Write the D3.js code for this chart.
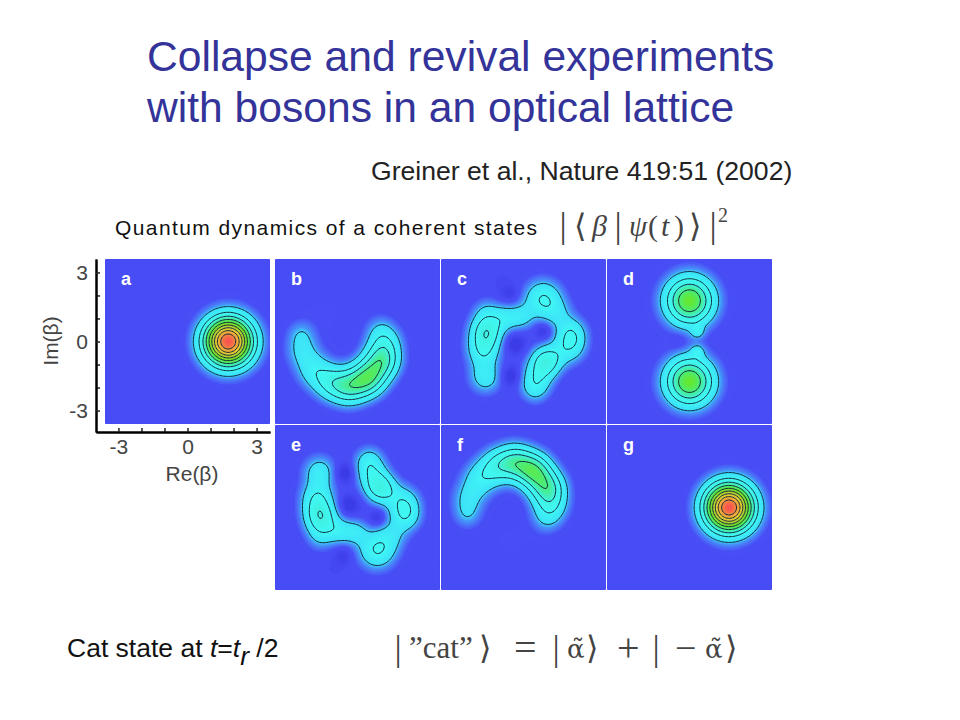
<!DOCTYPE html>
<html>
<head>
<meta charset="utf-8">
<script src="https://d3js.org/d3.v7.min.js"></script>
<style>
  body { margin: 0; background: #fff; }
  svg { display: block; }
  text { font-family: "Liberation Sans", Arial, sans-serif; }
  .math { font-family: "Liberation Serif", "DejaVu Serif", serif; fill: #444; }
</style>
</head>
<body>
<div id="drawing"></div>
<script>
// each bump is [re, im, height, width]; negative ones are the dark holes
const panelA = [[1.77, 0, 1, 1]];
const panelB = [
  [-2.45, 0.35, 0.07, 0.6], [-2.4, -0.4, 0.1, 0.72], [-1.9, -1.25, 0.13, 0.75],
  [-1.15, -1.8, 0.185, 0.75], [-0.35, -2.0, 0.25, 0.75], [0.45, -1.6, 0.34, 0.75],
  [1.05, -0.85, 0.29, 0.75], [1.2, -0.05, 0.14, 0.72], [0.98, 0.55, 0.06, 0.65],
  [-1.4, 1.2, 0.012, 1.2]
];
const panelC = [
  [-1.6, 0.45, 0.25, 0.7], [-1.75, -0.4, 0.17, 0.7], [-1.65, -1.55, 0.14, 0.7], [-1.6, 1.3, 0.08, 0.6],
  [-0.8, 1.05, 0.11, 0.55], [-0.1, 1.05, 0.11, 0.55], [0.85, 1.85, 0.2, 0.8], [1.5, 1.2, 0.08, 0.65],
  [2.1, 0.4, 0.14, 0.65], [2.0, -0.25, 0.15, 0.7], [1.0, -0.85, 0.25, 0.65], [0.55, -1.55, 0.13, 0.7],
  [0.5, -2.1, 0.09, 0.6],
  [0.87, 0.45, -0.06, 0.35], [-0.4, -0.1, -0.06, 0.45], [-0.55, -1.5, -0.07, 0.45], [-0.6, 2.05, -0.04, 0.4]
];
const panelD = [
  [0, 1.77, 0.5, 1], [0, -1.74, 0.5, 1],
  [0.35, 0.42, 0.1, 0.28], [0.35, -0.42, 0.1, 0.28],
  [-0.5, 0, -0.03, 0.4]
];
const panelE = [
  [-1.6, -0.45, 0.25, 0.7], [-1.75, 0.4, 0.17, 0.7], [-1.65, 1.55, 0.14, 0.7], [-1.6, -1.3, 0.08, 0.6],
  [-0.8, -1.05, 0.11, 0.55], [-0.1, -1.05, 0.11, 0.55], [0.85, -1.85, 0.2, 0.8], [1.5, -1.2, 0.08, 0.65],
  [2.1, -0.4, 0.14, 0.65], [2.0, 0.25, 0.15, 0.7], [1.0, 0.85, 0.25, 0.65], [0.55, 1.55, 0.13, 0.7],
  [0.5, 2.1, 0.09, 0.6],
  [0.87, -0.45, -0.06, 0.35], [-0.4, 0.1, -0.06, 0.45], [-0.55, 1.5, -0.07, 0.45], [-0.6, -2.05, -0.04, 0.4]
];
const panelF = [
  [-2.45, -0.35, 0.07, 0.6], [-2.4, 0.4, 0.1, 0.72], [-1.9, 1.25, 0.13, 0.75],
  [-1.15, 1.8, 0.185, 0.75], [-0.35, 2.0, 0.25, 0.75], [0.45, 1.6, 0.34, 0.75],
  [1.05, 0.85, 0.29, 0.75], [1.2, 0.05, 0.14, 0.72], [0.98, -0.55, 0.06, 0.65],
  [-0.6, -1.5, 0.012, 1.2]
];
const panelG = [[1.72, 0, 1, 1]];

const panelNames = ["a", "b", "c", "d", "e", "f", "g"];
const panelBumps = [panelA, panelB, panelC, panelD, panelE, panelF, panelG];
const panelCols = [0, 1, 2, 3, 1, 2, 3];
const panelRows = [0, 0, 0, 0, 1, 1, 1];

const majorTicks = [-3, 0, 3];
const minorTicks = [-2, -1, 1, 2];
const contourLevels = [0.1, 0.2, 0.3, 0.4, 0.5, 0.6, 0.7, 0.8, 0.9];
const colorStops = [-0.04, 0, 0.02, 0.04, 0.07, 0.1, 0.2, 0.3, 0.4, 0.5, 0.6, 0.7, 0.8, 0.9, 1];
const colorValues = ["#3c3ce6", "#484cf5", "#484ef5", "#4a6cf8", "#4498f8", "#3ce0f8", "#40f8f4", "#40f0e0",
  "#48ec80", "#66e82c", "#98d030", "#d0d034", "#f0c034", "#f09040", "#f85050"];

const titleLines = ["Collapse and revival experiments", "with bosons in an optical lattice"];
const citation = "Greiner et al., Nature 419:51 (2002)";
const caption = "Quantum dynamics of a coherent states";

const width = 960;
const height = 720;
const panelSize = 163;
const panelX = [106, 276, 442, 608];
const panelY = [260, 426];
const range = 3.54;
const gridSize = 120;

const svg = d3.select("#drawing").append("svg")
  .attr("width", width)
  .attr("height", height)
  .style("background", "#fff");

const color = d3.scaleLinear().domain(colorStops).range(colorValues).clamp(true);
const gridToRe = d3.scaleLinear().domain([0, gridSize - 1]).range([-range, range]);
const gridToIm = d3.scaleLinear().domain([0, gridSize - 1]).range([range, -range]);
const reScale = d3.scaleLinear().domain([-range, range]).range([0, panelSize]);
const imScale = d3.scaleLinear().domain([-range, range]).range([panelSize, 0]);

const contours = d3.contours().size([gridSize, gridSize]);
const path = d3.geoPath(d3.geoTransform({
  point(x, y) {
    this.stream.point(reScale(gridToRe(x - 0.5)), imScale(gridToIm(y - 0.5)));
  }
}));

function field(bumps) {
  const values = [];
  for (let j = 0; j < gridSize; j++) {
    for (let i = 0; i < gridSize; i++) {
      const re = gridToRe(i), im = gridToIm(j);
      values.push(d3.sum(bumps, b => b[2] * Math.exp(-((re - b[0]) ** 2 + (im - b[1]) ** 2) / (b[3] * b[3]))));
    }
  }
  return values;
}

const blur = svg.append("defs").append("filter").attr("id", "soft");
blur.append("feGaussianBlur").attr("stdDeviation", 0.35);

panelNames.forEach((name, k) => {
  const g = svg.append("g")
    .attr("transform", `translate(${panelX[panelCols[k]]}, ${panelY[panelRows[k]]})`);
  const values = field(panelBumps[k]);

  g.append("rect").attr("width", panelSize).attr("height", panelSize).attr("fill", color(-0.04));
  g.append("g").selectAll("path")
    .data(contours.thresholds(d3.range(-0.04, 1.001, 0.01))(values))
    .join("path")
    .attr("d", path)
    .attr("fill", d => color(d.value));
  g.append("g").selectAll("path")
    .data(contours.thresholds(contourLevels)(values).filter(d => d.coordinates.length))
    .join("path")
    .attr("d", path)
    .attr("fill", "none")
    .attr("stroke", "#10283c")
    .attr("stroke-width", 1)
    .attr("filter", "url(#soft)");

  g.append("text")
    .attr("x", 15).attr("y", 25)
    .attr("fill", "#fff")
    .attr("font-size", 18)
    .attr("font-weight", "bold")
    .text(name);
});

// axes of panel a, they run a little past the panel towards the corner
const pxPerUnit = panelSize / (2 * range);
const xAxisScale = d3.scaleLinear().domain([-range - 10 / pxPerUnit, range + 1 / pxPerUnit]).range([96, 270]);
const yAxisScale = d3.scaleLinear().domain([-range - 9 / pxPerUnit, range + 1 / pxPerUnit]).range([432, 259]);

function styleAxis(sel) {
  sel.select(".domain").attr("stroke", "#000").attr("stroke-width", 2);
  sel.selectAll(".tick line").attr("stroke", "#222").attr("stroke-width", 1.5);
  sel.selectAll("text").attr("fill", "#444").attr("font-size", 21)
    .style("font-family", '"Liberation Sans", Arial, sans-serif');
}

const xG = svg.append("g").attr("transform", "translate(0, 432)");
xG.append("g").call(d3.axisBottom(xAxisScale).tickValues(minorTicks).tickSize(-4).tickFormat("").tickSizeOuter(0)).call(styleAxis);
xG.append("g").call(d3.axisBottom(xAxisScale).tickValues(majorTicks).tickSize(-4).tickSizeOuter(0).tickPadding(7).tickFormat(d => String(d))).call(styleAxis);

const yG = svg.append("g").attr("transform", "translate(96, 0)");
yG.append("g").call(d3.axisLeft(yAxisScale).tickValues(minorTicks).tickSize(-4).tickFormat("").tickSizeOuter(0)).call(styleAxis);
yG.append("g").call(d3.axisLeft(yAxisScale).tickValues(majorTicks).tickSize(-4).tickSizeOuter(0).tickPadding(8).tickFormat(d => String(d))).call(styleAxis);

svg.append("text").attr("x", 192).attr("y", 481).attr("text-anchor", "middle")
  .attr("font-size", 21).attr("fill", "#444").text("Re(β)");
svg.append("text").attr("transform", "translate(58, 341) rotate(-90)").attr("text-anchor", "middle")
  .attr("font-size", 21).attr("fill", "#444").text("Im(β)");

// slide text
svg.selectAll(".title").data(titleLines).join("text")
  .attr("class", "title")
  .attr("x", 147)
  .attr("y", (d, i) => 71 + i * 51)
  .attr("font-size", 42.6)
  .attr("fill", "#333399")
  .text(d => d);

svg.append("text").attr("x", 371).attr("y", 180).attr("font-size", 26.6).attr("fill", "#222").text(citation);
svg.append("text").attr("x", 115).attr("y", 235).attr("font-size", 21).attr("fill", "#111")
  .attr("textLength", 422).text(caption);

const cat = svg.append("text").attr("x", 67).attr("y", 657).attr("font-size", 26.5).attr("fill", "#111");
cat.append("tspan").text("Cat state at ");
cat.append("tspan").attr("font-style", "italic").text("t");
cat.append("tspan").text("=");
cat.append("tspan").attr("font-style", "italic").text("t");
cat.append("tspan").attr("font-style", "italic").attr("dy", 8).text("r");
cat.append("tspan").attr("dy", -8).text(" /2");

// formulas, placed one glyph at a time: [text, x, y, size, style, font]
const psiGlyphs = [
  ["|", 563, 237, 36, "normal"], ["⟨", 574, 237, 32, "normal"], ["β", 592, 236, 30, "italic"], ["|", 618, 237, 36, "normal"],
  ["ψ", 629, 236, 29, "italic"], ["(", 648, 236, 30, "normal"], ["t", 661, 236, 30, "italic"], [")", 674, 236, 30, "normal"],
  ["⟩", 689, 237, 32, "normal"], ["|", 713, 237, 36, "normal"], ["2", 718, 222, 20, "normal"]
];
const catGlyphs = [
  ["|", 398, 660, 36, "normal"], ["”cat”", 409, 658, 31, "normal"], ["⟩", 479, 659, 32, "normal"], ["=", 514, 661, 40, "normal"],
  ["|", 556, 660, 36, "normal"], ["α̃", 567, 658, 26, "normal", "DejaVu Serif"], ["⟩", 586, 659, 32, "normal"], ["+", 617, 661, 40, "normal"],
  ["|", 656, 660, 36, "normal"], ["−", 675, 661, 38, "normal"], ["α̃", 705, 658, 26, "normal", "DejaVu Serif"], ["⟩", 725, 659, 32, "normal"]
];
svg.selectAll(".math").data(psiGlyphs.concat(catGlyphs)).join("text")
  .attr("class", "math")
  .attr("x", d => d[1]).attr("y", d => d[2]).attr("font-size", d => d[3])
  .attr("font-style", d => d[4])
  .style("font-family", d => d[5] || null)
  .attr("text-anchor", d => d[0] === "|" ? "middle" : "start")
  .text(d => d[0]);
</script>
</body>
</html>
